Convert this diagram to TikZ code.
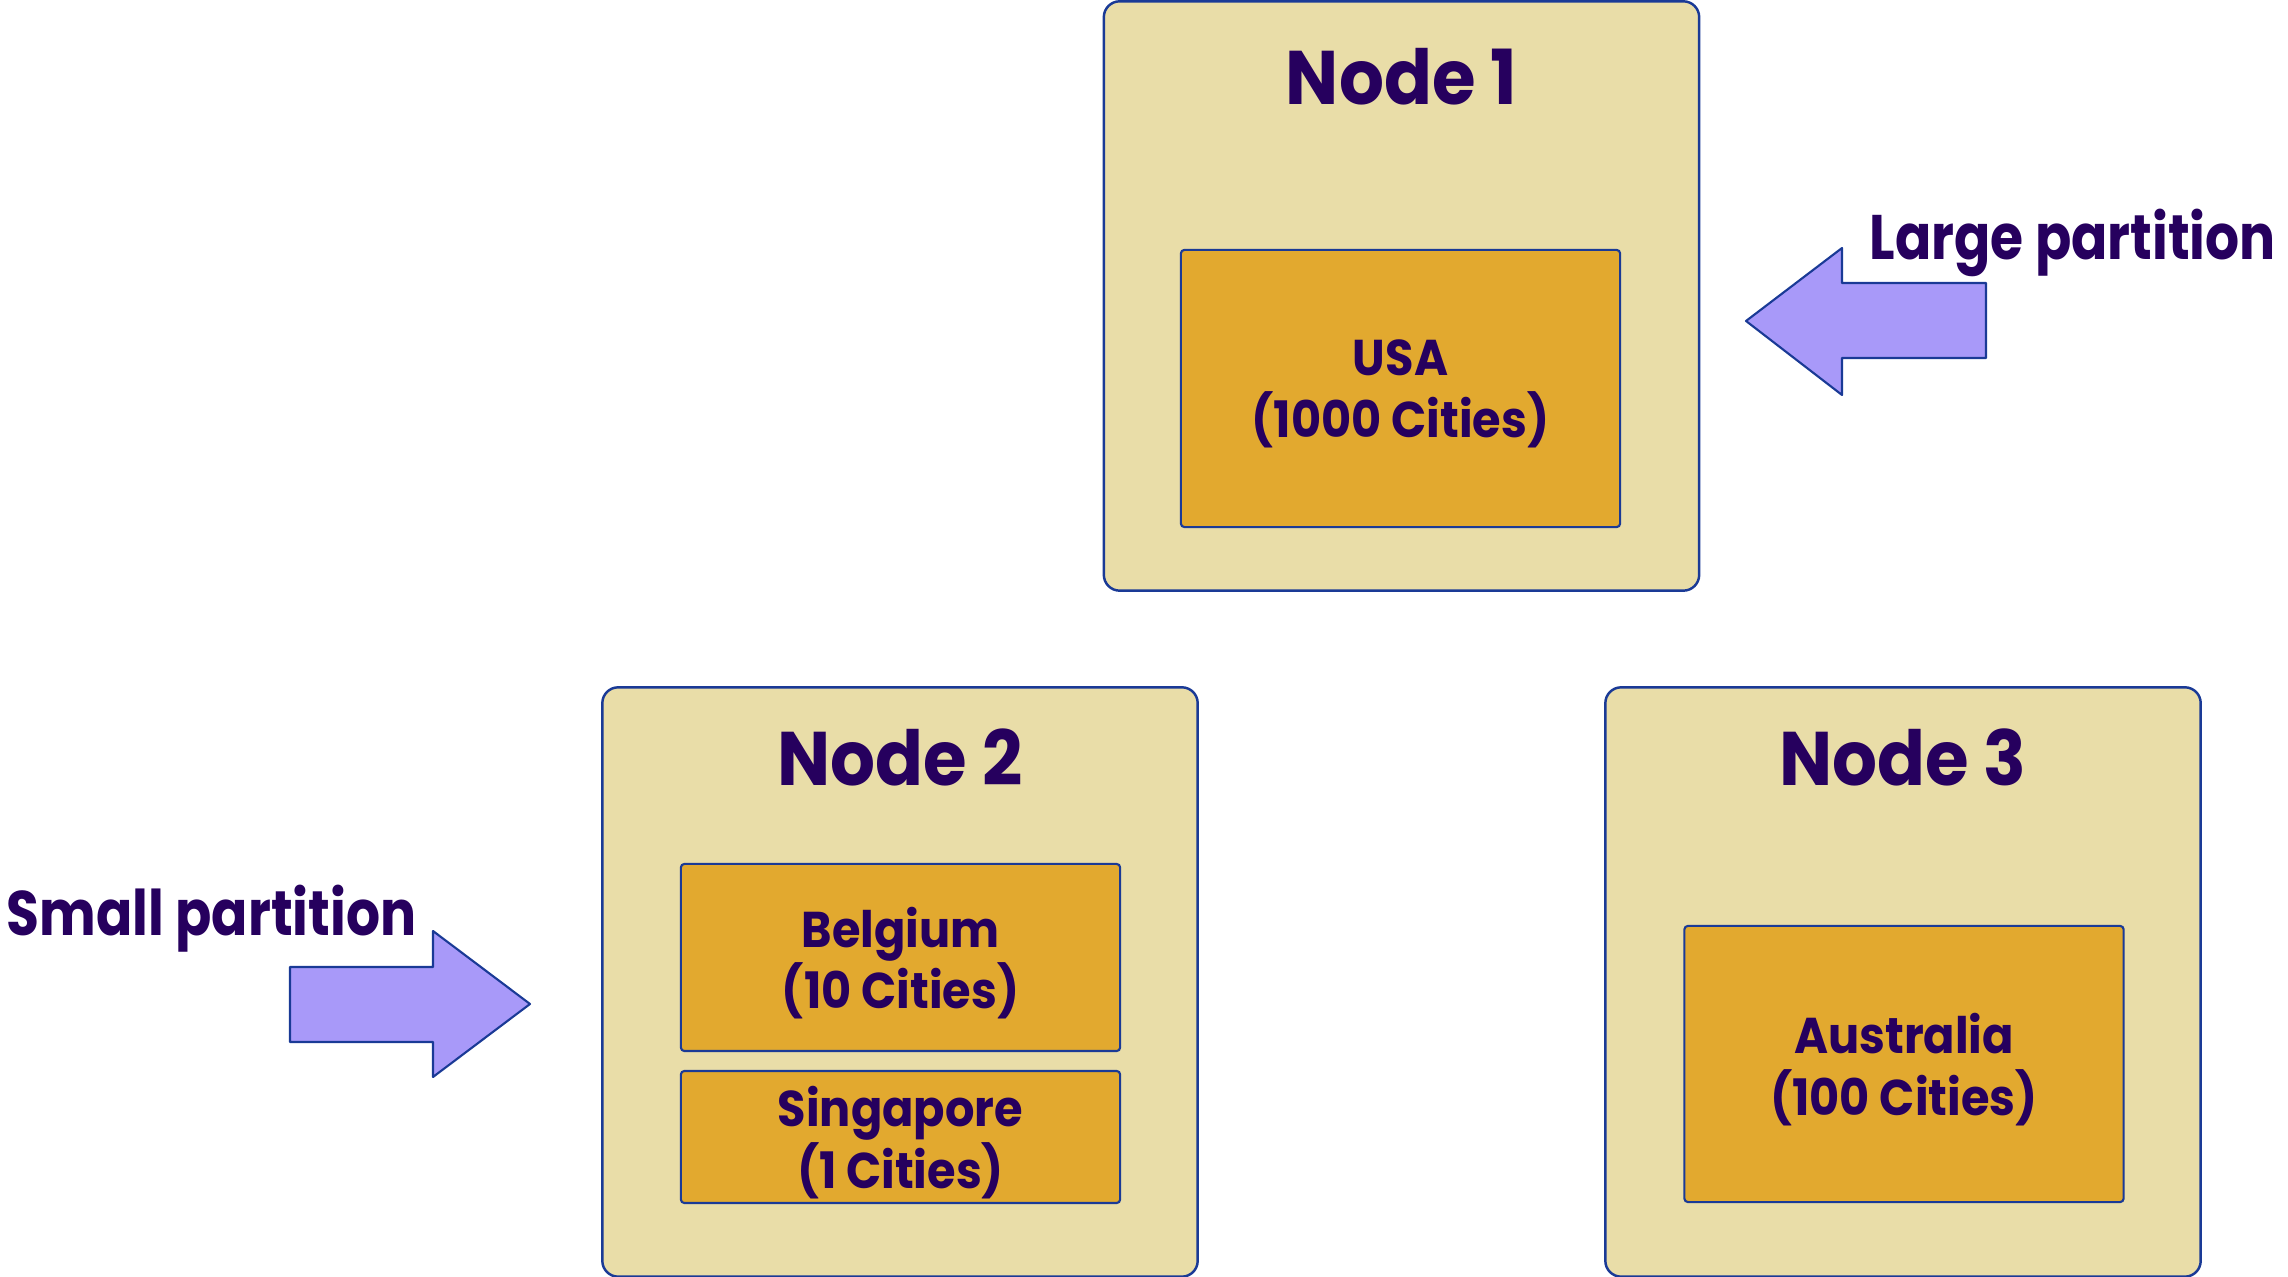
\documentclass[tikz,border=0pt]{standalone}
\usepackage{fontspec}
\setmainfont{Poppins}
\newfontfamily\titlefont[FakeStretch=0.93]{Poppins}
\newfontfamily\capfont[FakeStretch=0.85]{Poppins}
\newfontfamily\partfont[FakeStretch=0.92]{Poppins}
\definecolor{outerfill}{HTML}{E9DDA8}
\definecolor{innerfill}{HTML}{E2A92F}
\definecolor{txt}{HTML}{26005E}
\definecolor{arrowfill}{HTML}{A899F9}
\definecolor{edge}{HTML}{1A3A96}
\tikzset{
  serverbox/.style={draw=edge, fill=outerfill, line width=0.7pt, rounded corners=4.5pt,
    minimum width=5.95cm, minimum height=5.89cm, inner sep=0pt},
  partbox/.style={draw=edge, fill=innerfill, line width=0.6pt, rounded corners=1pt,
    minimum width=4.39cm, inner sep=0pt},
  parttext/.style={inner sep=0pt, align=center, text=txt, yshift=-1.6pt,
    font=\partfont\bfseries\fontsize{14.3}{17.6}\selectfont},
  title/.style={anchor=base, inner sep=0pt, text=txt, font=\titlefont\bfseries\fontsize{21.6}{24}\selectfont},
  caption/.style={anchor=base west, inner sep=0pt, text=txt, font=\capfont\bfseries\fontsize{17.9}{20}\selectfont},
  bigarrow/.style={draw=edge, fill=arrowfill, line width=0.6pt, line join=round},
}
\begin{document}
\begin{tikzpicture}[x=0.01cm, y=-0.01cm]
\useasboundingbox (0,0) rectangle (2288,1277);
% servers
\node[serverbox] (n1) at (1401.5,296) {};
\node[serverbox] (n2) at (900,982) {};
\node[serverbox] (n3) at (1903,982) {};
\node[title] (t1) at (1401.5,105) {Node 1};
\node[title] (t2) at (900,786) {Node 2};
\node[title] (t3) at (1903,786) {Node 3};
% partitions
\node[partbox, minimum height=2.77cm] (usa) at (1400.5,388.5) {};
\node[partbox, minimum height=1.87cm] (bel) at (900.5,957.5) {};
\node[partbox, minimum height=1.32cm] (sgp) at (900.5,1137) {};
\node[partbox, minimum height=2.76cm] (aus) at (1904,1064) {};
\node[parttext] (usat) at (usa.center) {USA\\(1000 Cities)};
\node[parttext] (belt) at (bel.center) {Belgium\\(10 Cities)};
\node[parttext] (sgpt) at (sgp.center) {Singapore\\(1 Cities)};
\node[parttext] (aust) at (aus.center) {Australia\\(100 Cities)};
% arrows
\coordinate (ltip) at (1746,321);
\coordinate (stip) at (530,1004);
\draw[bigarrow] (ltip) -- (1842,248) -- (1842,283) -- (1986,283) -- (1986,358)
  -- (1842,358) -- (1842,395) -- cycle;
\draw[bigarrow] (stip) -- (433,1077) -- (433,1042) -- (290,1042) -- (290,967)
  -- (433,967) -- (433,931) -- cycle;
\node[caption] (large) at (1869,260) {Large partition};
\node[caption] (small) at (6,936) {Small partition};
\end{tikzpicture}
\end{document}
